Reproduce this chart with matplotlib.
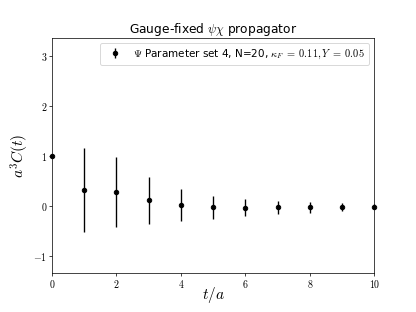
import matplotlib
matplotlib.use('Agg')
import matplotlib.pyplot as plt

plt.rcParams['mathtext.fontset'] = 'cm'
plt.rcParams['font.family'] = ['DejaVu Sans']

# Data
t_values = [0, 1, 2, 3, 4, 5, 6, 7, 8, 9, 10]
corr_values = [1.0, 0.31, 0.27, 0.11, 0.01, -0.03, -0.04, -0.03, -0.03, -0.03, -0.02]
corr_errors = [0.01, 0.84, 0.70, 0.47, 0.32, 0.23, 0.17, 0.13, 0.11, 0.08, 0.05]

x_ticks = [0, 2, 4, 6, 8, 10]
y_ticks = [-1, 0, 1, 2, 3]
legend_label = r'$\Psi$ Parameter set 4, N=20, $\kappa_F\;=\;0.11,Y\;=\;0.05$'

fig = plt.figure(figsize=(6.4, 4.8), dpi=65)
ax = fig.add_axes([0.125, 0.125, 0.775, 0.753])

ax.errorbar(t_values, corr_values, yerr=corr_errors, fmt='o', color='black',
            markersize=5, elinewidth=1.5, capsize=0, label=legend_label, clip_on=False)

ax.set_xlim(0, 10)
ax.set_ylim(-1.35, 3.35)
ax.set_xticks(x_ticks)
ax.set_xticklabels([f'${v}$' for v in x_ticks])
ax.set_yticks(y_ticks)
ax.set_yticklabels([f'${v}$' for v in y_ticks])
ax.tick_params(labelsize=11, pad=2)

ax.set_xlabel(r'$t/a$', fontsize=17, labelpad=-6)
ax.set_ylabel(r'$a^3C(t)$', fontsize=17, labelpad=2)
ax.set_title(r'Gauge-fixed $\psi\chi$ propagator', fontsize=13.5, pad=4)
ax.legend(loc='upper right', fontsize=11.5)

fig.savefig('out.png', dpi=65)
